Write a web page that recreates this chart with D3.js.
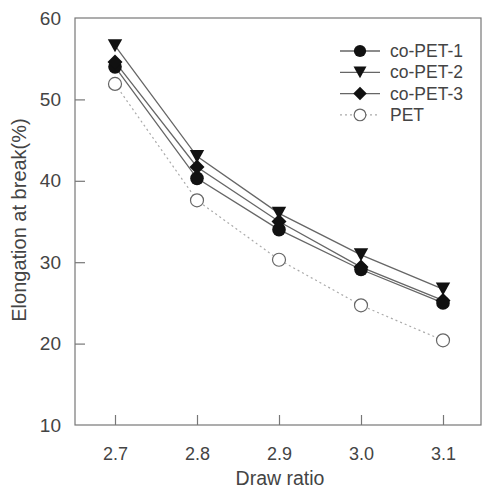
<!DOCTYPE html>
<html>
<head>
<meta charset="utf-8">
<script src="https://cdn.jsdelivr.net/npm/d3@7"></script>
<style>
  html, body { margin: 0; padding: 0; background: #fff; }
  text { font-family: "Liberation Sans", Arial, sans-serif; fill: #444; }
</style>
</head>
<body>
<svg id="chart" width="484" height="490"></svg>
<script>
// Draw ratios on the x axis
const drawRatios = [2.7, 2.8, 2.9, 3.0, 3.1];
const xTickLabels = ["2.7", "2.8", "2.9", "3.0", "3.1"];
const yTicks = [10, 20, 30, 40, 50, 60];

// Elongation at break (%) for each sample
const coPET1 = [54.0, 40.3, 34.0, 29.1, 25.0];
const coPET2 = [56.6, 43.0, 36.0, 30.9, 26.7];
const coPET3 = [54.6, 41.7, 35.0, 29.4, 25.3];
const pet    = [51.9, 37.6, 30.3, 24.7, 20.4];

const seriesNames = ["co-PET-1", "co-PET-2", "co-PET-3", "PET"];
const seriesValues = [coPET1, coPET2, coPET3, pet];
const seriesMarkers = ["circle", "triangleDown", "diamond", "openCircle"];

const svg = d3.select("#chart");
const plotLeft = 75, plotRight = 481, plotTop = 18, plotBottom = 425;

const x = d3.scaleLinear()
  .domain([2.7, 3.1])
  .range([115, 443]);
const y = d3.scaleLinear()
  .domain([10, 60])
  .range([plotBottom, plotTop]);

// Frame
svg.append("rect")
  .attr("x", plotLeft).attr("y", plotTop)
  .attr("width", plotRight - plotLeft).attr("height", plotBottom - plotTop)
  .attr("fill", "none").attr("stroke", "#777").attr("stroke-width", 1.2);

// Axes with inward ticks
const xAxis = d3.axisBottom(x)
  .tickValues(drawRatios)
  .tickFormat((d, i) => xTickLabels[i])
  .tickSizeInner(-10).tickSizeOuter(0).tickPadding(22);
const gx = svg.append("g").attr("transform", `translate(0,${plotBottom})`).call(xAxis);
gx.select(".domain").remove();
gx.selectAll(".tick line").attr("stroke", "#777").attr("stroke-width", 1.2);
gx.selectAll(".tick text").attr("font-size", 18).style("fill", "#444");

const yAxis = d3.axisLeft(y)
  .tickValues(yTicks)
  .tickSizeInner(-10).tickSizeOuter(0).tickPadding(14);
const gy = svg.append("g").attr("transform", `translate(${plotLeft},0)`).call(yAxis);
gy.select(".domain").remove();
gy.selectAll(".tick line").attr("stroke", "#777").attr("stroke-width", 1.2)
  .filter(d => d === 10 || d === 60).remove();
gy.selectAll(".tick text").attr("font-size", 19).style("fill", "#444");

// Axis titles
svg.append("text")
  .attr("x", 280).attr("y", 485)
  .attr("text-anchor", "middle")
  .attr("font-size", 19.5)
  .text("Draw ratio");
svg.append("text")
  .attr("transform", `translate(26,220) rotate(-90)`)
  .attr("text-anchor", "middle")
  .attr("font-size", 20)
  .text("Elongation at break(%)");

// Marker drawing
function drawMarker(g, type, cx, cy, scale) {
  const s = scale || 1;
  if (type === "circle") {
    g.append("circle").attr("cx", cx).attr("cy", cy).attr("r", 6.8 * s).attr("fill", "#111");
  } else if (type === "openCircle") {
    g.append("circle").attr("cx", cx).attr("cy", cy).attr("r", 6.5 * s)
      .attr("fill", "#fff").attr("stroke", "#666").attr("stroke-width", 1.2);
  } else if (type === "triangleDown") {
    const w = 7.2 * s, h = 6.5 * s;
    g.append("path")
      .attr("d", `M${cx - w},${cy - h}L${cx + w},${cy - h}L${cx},${cy + h}Z`)
      .attr("fill", "#111");
  } else if (type === "diamond") {
    const r = 7.5 * s;
    g.append("path")
      .attr("d", `M${cx},${cy - r}L${cx + r},${cy}L${cx},${cy + r}L${cx - r},${cy}Z`)
      .attr("fill", "#111");
  }
}

const line = d3.line().x((d, i) => x(drawRatios[i])).y(d => y(d));

// Lines first, PET dotted
seriesValues.forEach((vals, k) => {
  const isPET = seriesMarkers[k] === "openCircle";
  svg.append("path")
    .datum(vals)
    .attr("d", line)
    .attr("fill", "none")
    .attr("stroke", isPET ? "#aaa" : "#666")
    .attr("stroke-width", isPET ? 1.2 : 1.3)
    .attr("stroke-dasharray", isPET ? "2,3" : null);
});

// Markers: PET at bottom of stack, then co-PET-1, co-PET-3, co-PET-2
const order = [3, 0, 2, 1];
order.forEach(k => {
  const g = svg.append("g");
  seriesValues[k].forEach((v, i) => drawMarker(g, seriesMarkers[k], x(drawRatios[i]), y(v)));
});

// Legend
const legend = svg.append("g");
seriesNames.forEach((name, k) => {
  const ly = 51 + k * 21.3;
  const isPET = seriesMarkers[k] === "openCircle";
  legend.append("line")
    .attr("x1", 340).attr("x2", 380).attr("y1", ly).attr("y2", ly)
    .attr("stroke", isPET ? "#aaa" : "#666")
    .attr("stroke-width", 1.3)
    .attr("stroke-dasharray", isPET ? "2,3" : null);
  drawMarker(legend, seriesMarkers[k], 360, ly, 0.9);
  legend.append("text")
    .attr("x", 390).attr("y", ly + 6)
    .attr("font-size", 17.5)
    .text(name);
});
</script>
</body>
</html>
